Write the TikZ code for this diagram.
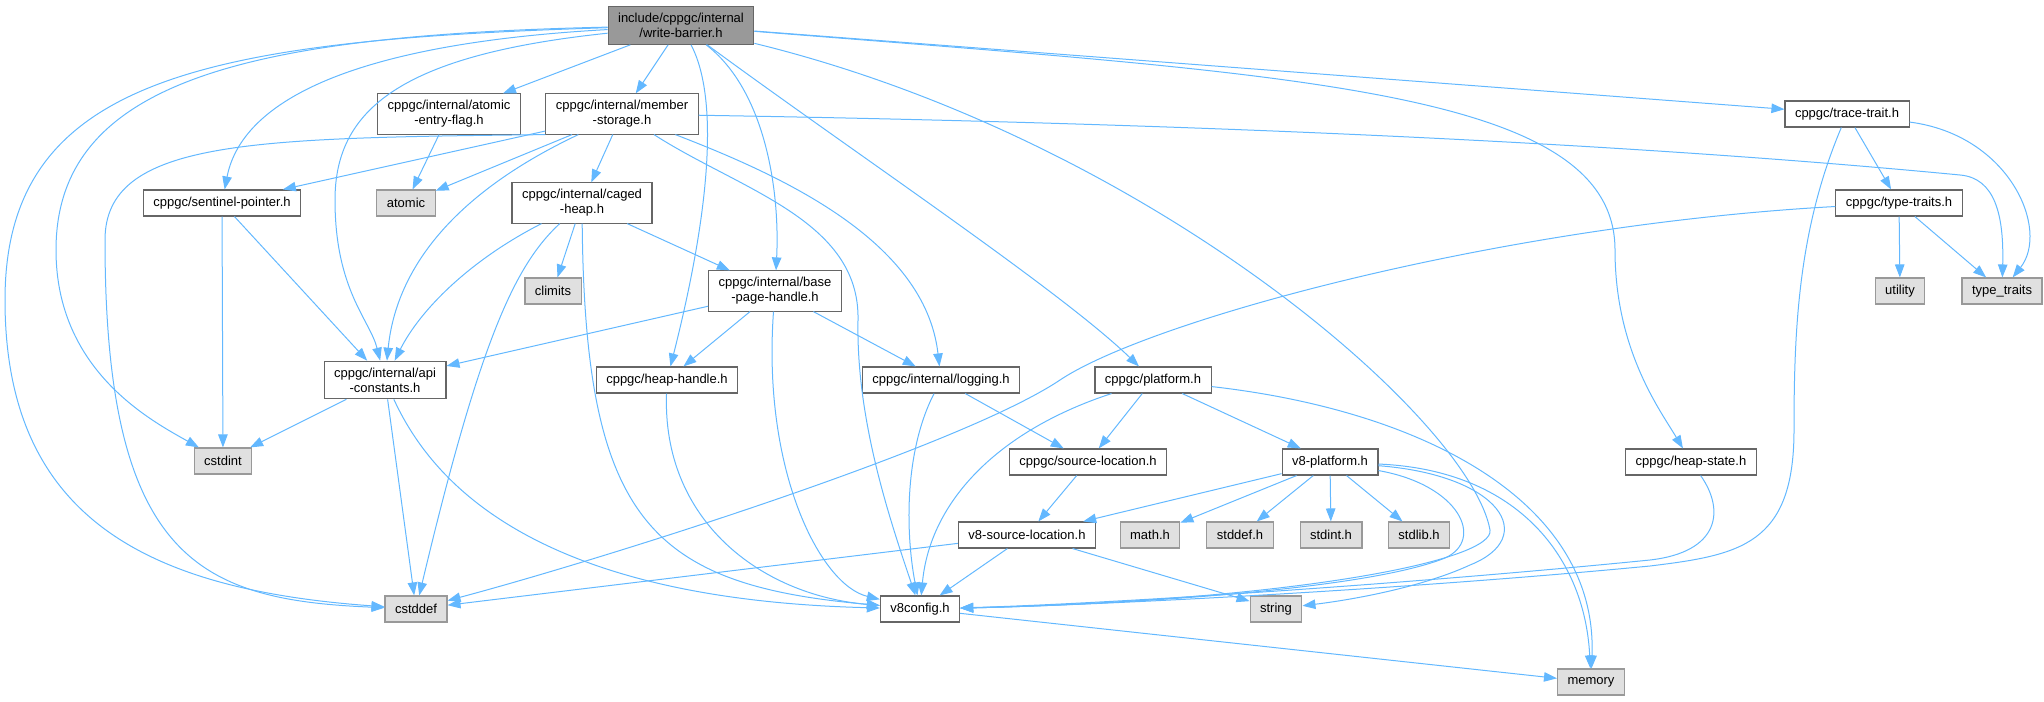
\documentclass[tikz,border=0pt]{standalone}
\usepackage{fontspec}
\setmainfont{Liberation Sans}
\usepackage{xcolor}
\usetikzlibrary{arrows.meta}
\definecolor{edgeblue}{HTML}{63B8FF}
\definecolor{boxgray}{HTML}{666666}
\definecolor{sysgray}{HTML}{999999}
\definecolor{sysfill}{HTML}{E0E0E0}
\definecolor{rootfill}{HTML}{999999}

\begin{document}
\begin{tikzpicture}[x=1pt, y=-1pt,
	every node/.style={draw=boxgray, line width=1.1pt, font=\fontsize{13}{15}\selectfont, inner xsep=10pt, inner ysep=6.5pt, minimum height=26pt, align=center},
	file/.style={fill=white},
	sysfile/.style={draw=sysgray, fill=sysfill},
	rootfile/.style={fill=rootfill},
	dep/.style={-{Triangle[length=13pt,width=9.5pt]}, color=edgeblue, line width=1pt}]
		\useasboundingbox (0,0) rectangle (2044,701);
		\node[rootfile] at (681,25.5) (root) {include/cppgc/internal\\/write-barrier.h};
		\node[file] at (449,114) (atomicflag) {cppgc/internal/atomic\\-entry-flag.h};
		\node[file] at (622,114) (member) {cppgc/internal/member\\-storage.h};
		\node[file] at (1847,114) (trace) {cppgc/trace-trait.h};
		\node[file] at (222,203) (sentinel) {cppgc/sentinel-pointer.h};
		\node[sysfile] at (406,203) (atomic) {atomic};
		\node[file] at (582,203) (caged) {cppgc/internal/caged\\-heap.h};
		\node[file] at (1899,203) (typetraits) {cppgc/type-traits.h};
		\node[sysfile] at (553,291) (climits) {climits};
		\node[file] at (775,291) (basepage) {cppgc/internal/base\\-page-handle.h};
		\node[sysfile] at (1900,291) (utility) {utility};
		\node[sysfile] at (2002,291) (stdtraits) {type\_traits};
		\node[file] at (385,380) (api) {cppgc/internal/api\\-constants.h};
		\node[file] at (667,380) (heaphandle) {cppgc/heap-handle.h};
		\node[file] at (941,380) (logging) {cppgc/internal/logging.h};
		\node[file] at (1153,380) (platform) {cppgc/platform.h};
		\node[sysfile] at (223,461) (cstdint) {cstdint};
		\node[file] at (1088,462) (srcloc) {cppgc/source-location.h};
		\node[file] at (1330,462) (v8platform) {v8-platform.h};
		\node[file] at (1691,462) (heapstate) {cppgc/heap-state.h};
		\node[file] at (1027,535) (v8srcloc) {v8-source-location.h};
		\node[sysfile] at (1150,535) (math) {math.h};
		\node[sysfile] at (1240,535) (stddef) {stddef.h};
		\node[sysfile] at (1331,535) (stdint) {stdint.h};
		\node[sysfile] at (1419,535) (stdlib) {stdlib.h};
		\node[sysfile] at (416,609) (cstddef) {cstddef};
		\node[file] at (920,609) (v8config) {v8config.h};
		\node[sysfile] at (1276,609) (string) {string};
		\node[sysfile] at (1591,682) (memory) {memory};
		
		\draw[dep] (root) .. controls (200,40) and (5,80) .. (5,300) .. controls (5,520) and (150,590) .. (cstddef);
		\draw[dep] (root) .. controls (250,35) and (56,80) .. (56,250) .. controls (56,370) and (150,420) .. (cstdint);
		\draw[dep] (root) .. controls (330,45) and (240,110) .. (sentinel);
		\draw[dep] (root) .. controls (400,55) and (335,110) .. (335,200) .. controls (335,290) and (370,320) .. (api);
		\path[dep] (root) edge (atomicflag);
		\path[dep] (root) edge (member);
		\draw[dep] (root) .. controls (725,110) and (700,250) .. (heaphandle);
		\draw[dep] (root) .. controls (765,90) and (780,190) .. (basepage);
		\draw[dep] (root) .. controls (850,150) and (1060,290) .. (platform);
		\draw[dep] (root) .. controls (1150,140) and (1470,420) .. (1490,530) .. controls (1495,560) and (1300,600) .. (v8config);
		\draw[dep] (root) .. controls (1300,75) and (1615,90) .. (1615,250) .. controls (1615,350) and (1660,410) .. (heapstate);
		\path[dep] (root) edge (trace);
		
		\draw[dep] (member.south west) .. controls (250,138) and (105,140) .. (105,240) .. controls (105,560) and (200,600) .. (cstddef);
		\path[dep] (member) edge (sentinel);
		\path[dep] (member) edge (atomic);
		\draw[dep] (member) .. controls (440,200) and (395,280) .. (api);
		\path[dep] (member) edge (caged);
		\draw[dep] (member) .. controls (740,190) and (860,220) .. (858,320) .. controls (856,420) and (890,520) .. (v8config);
		\draw[dep] (member) .. controls (780,175) and (925,240) .. (logging);
		\draw[dep] (member) .. controls (1300,125) and (1700,150) .. (1960,175) .. controls (1995,178) and (2004,215) .. (stdtraits);
		
		\path[dep] (atomicflag) edge (atomic);
		\path[dep] (sentinel) edge (cstdint);
		\path[dep] (sentinel) edge (api);
		
		\draw[dep] (caged) .. controls (470,260) and (420,310) .. (api);
		\draw[dep] (caged) .. controls (515,265) and (480,340) .. (cstddef);
		\path[dep] (caged) edge (climits);
		\draw[dep] (caged) .. controls (585,520) and (650,585) .. (v8config);
		\path[dep] (caged) edge (basepage);
		
		\path[dep] (basepage) edge (api);
		\path[dep] (basepage) edge (heaphandle);
		\draw[dep] (basepage) .. controls (762,470) and (820,585) .. (v8config);
		\path[dep] (basepage) edge (logging);
		
		\draw[dep] (heaphandle) .. controls (662,520) and (760,595) .. (v8config);
		\path[dep] (api) edge (cstdint);
		\path[dep] (api) edge (cstddef);
		\draw[dep] (api) .. controls (440,500) and (560,600) .. (v8config);
		
		\path[dep] (logging) edge (srcloc);
		\draw[dep] (logging) .. controls (905,450) and (905,530) .. (v8config);
		\path[dep] (platform) edge (srcloc);
		\path[dep] (platform) edge (v8platform);
		\draw[dep] (platform) .. controls (1000,430) and (930,500) .. (v8config);
		\draw[dep] (platform) .. controls (1420,410) and (1598,500) .. (memory);
		\path[dep] (srcloc) edge (v8srcloc);
		
		\path[dep] (v8platform) edge (v8srcloc);
		\path[dep] (v8platform) edge (math);
		\path[dep] (v8platform) edge (stddef);
		\path[dep] (v8platform) edge (stdint);
		\path[dep] (v8platform) edge (stdlib);
		\draw[dep] (v8platform) .. controls (1460,485) and (1485,540) .. (1445,558) .. controls (1360,592) and (1100,605) .. (v8config);
		\draw[dep] (v8platform) .. controls (1500,475) and (1540,537) .. (1470,565) .. controls (1420,588) and (1350,600) .. (string);
		\draw[dep] (v8platform) .. controls (1520,470) and (1585,560) .. (memory);
		
		\path[dep] (v8srcloc) edge (cstddef);
		\path[dep] (v8srcloc) edge (v8config);
		\path[dep] (v8srcloc) edge (string);
		\path[dep] (v8config) edge (memory);
		
		\draw[dep] (heapstate) .. controls (1725,510) and (1720,552) .. (1650,560) .. controls (1400,585) and (1100,604) .. (v8config);
		\draw[dep] (typetraits) .. controls (1500,225) and (1150,320) .. (1060,380) .. controls (960,447) and (600,560) .. (cstddef);
		\path[dep] (typetraits) edge (utility);
		\path[dep] (typetraits) edge (stdtraits);
		
		\path[dep] (trace) edge (typetraits);
		\draw[dep] (trace) .. controls (2010,135) and (2050,230) .. (stdtraits);
		\draw[dep] (trace) .. controls (1798,230) and (1794,330) .. (1794,430) .. controls (1794,545) and (1740,555) .. (1650,566) .. controls (1400,590) and (1100,605) .. (v8config);
	\end{tikzpicture}
\end{document}
